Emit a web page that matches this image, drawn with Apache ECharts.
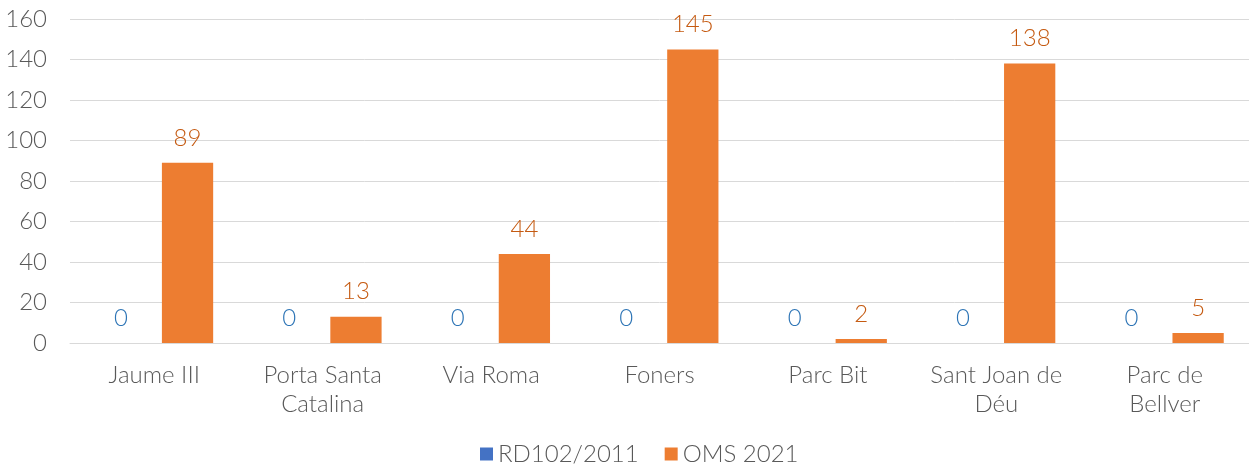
<!DOCTYPE html>
<html>
<head>
<meta charset="utf-8">
<script src="https://cdn.jsdelivr.net/npm/echarts@6/dist/echarts.min.js"></script>
<style>
  html, body { margin: 0; padding: 0; background: #fff; }
  #chart { width: 1249px; height: 471px; }
</style>
</head>
<body>
<div id="chart"></div>
<script>
// estacions i valors
const categories = ['Jaume III', 'Porta Santa\nCatalina', 'Via Roma', 'Foners', 'Parc Bit', 'Sant Joan de\nDéu', 'Parc de\nBellver']
const rdValues = [0, 0, 0, 0, 0, 0, 0]
const omsValues = [89, 13, 44, 145, 2, 138, 5]
const seriesNames = ['RD102/2011', 'OMS 2021']

const font = 'Lato, "Noto Sans", sans-serif'
const fs = 24
const fw = 300
const chart = echarts.init(document.getElementById('chart'))

chart.setOption({
  animation: false,
  textStyle: { fontFamily: font },
  grid: { left: 70, right: 0, top: 19, bottom: 128 },
  legend: {
    left: 475,
    bottom: 0,
    itemWidth: 13,
    itemHeight: 13,
    itemGap: 26,
    icon: 'rect',
    textStyle: { color: '#595959', fontSize: fs, fontWeight: fw, fontFamily: font },
    data: seriesNames,
  },
  xAxis: {
    type: 'category',
    data: categories,
    axisLine: { lineStyle: { color: '#d9d9d9' } },
    axisTick: { show: false },
    axisLabel: { color: '#595959', fontSize: fs, fontWeight: fw, lineHeight: 29, margin: 18, interval: 0, fontFamily: font },
  },
  yAxis: {
    type: 'value',
    min: 0,
    max: 160,
    interval: 20,
    axisLine: { show: false },
    axisTick: { show: false },
    axisLabel: { color: '#595959', fontSize: fs, fontWeight: fw, margin: 23, fontFamily: font },
    splitLine: { lineStyle: { color: '#d9d9d9', width: 1 } },
  },
  series: [
    {
      name: seriesNames[0],
      type: 'bar',
      data: rdValues,
      barGap: '30%',
      barCategoryGap: '30%',
      itemStyle: { color: '#4472c4' },
      label: { show: true, position: 'top', distance: 13, color: '#2e75b6', fontSize: fs, fontWeight: fw, fontFamily: font },
    },
    {
      name: seriesNames[1],
      type: 'bar',
      data: omsValues,
      barGap: '30%',
      barCategoryGap: '30%',
      itemStyle: { color: '#ed7d31' },
      label: { show: true, position: 'top', distance: 13, color: '#c55a11', fontSize: fs, fontWeight: fw, fontFamily: font },
    },
  ],
})
</script>
</body>
</html>
